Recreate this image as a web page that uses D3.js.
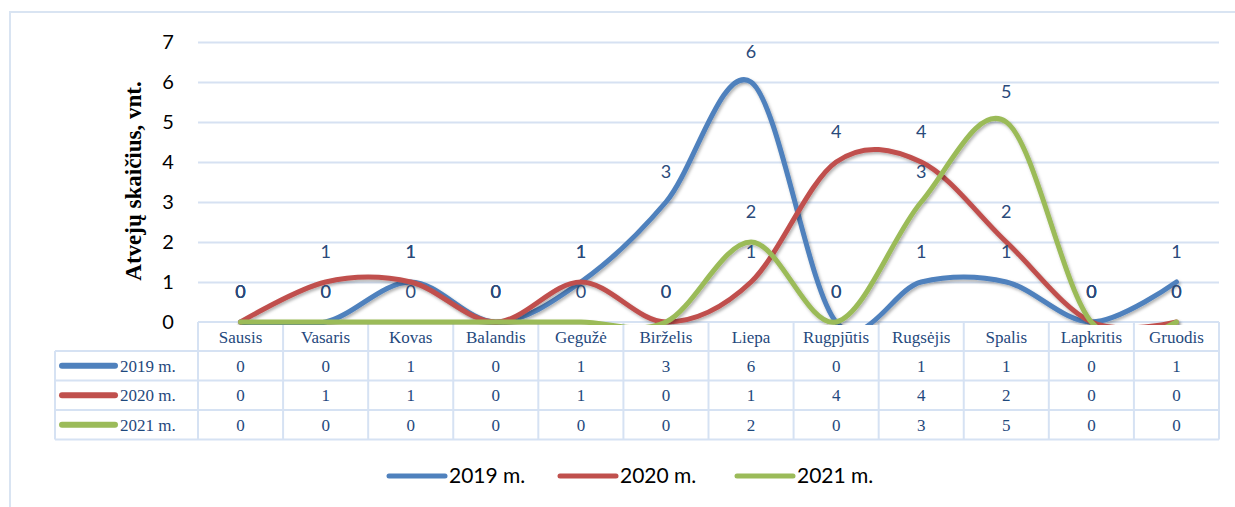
<!DOCTYPE html>
<html>
<head>
<meta charset="utf-8">
<script src="https://cdn.jsdelivr.net/npm/d3@7"></script>
<style>
  body { margin: 0; background: #fff; }
  svg { display: block; }
</style>
</head>
<body>
<div id="chart"></div>
<script>
// Chart data
const months = ["Sausis", "Vasaris", "Kovas", "Balandis", "Gegužė", "Birželis",
                "Liepa", "Rugpjūtis", "Rugsėjis", "Spalis", "Lapkritis", "Gruodis"];
const seriesNames = ["2019 m.", "2020 m.", "2021 m."];
const values2019 = [0, 0, 1, 0, 1, 3, 6, 0, 1, 1, 0, 1];
const values2020 = [0, 1, 1, 0, 1, 0, 1, 4, 4, 2, 0, 0];
const values2021 = [0, 0, 0, 0, 0, 0, 2, 0, 3, 5, 0, 0];
const yTicks = [0, 1, 2, 3, 4, 5, 6, 7];
const yTitle = "Atvejų skaičius, vnt.";

const colors = ["#4F81BD", "#C0504D", "#9BBB59"];
const allValues = [values2019, values2020, values2021];

const width = 1235;
const height = 507;
const plotLeft = 198, plotRight = 1219, plotTop = 42, plotBottom = 322;

const svg = d3.select("#chart").append("svg")
    .attr("width", width)
    .attr("height", height);

// drop shadow for the lines
const defs = svg.append("defs");
const filt = defs.append("filter").attr("id", "shadow")
    .attr("x", "-5%").attr("y", "-5%").attr("width", "110%").attr("height", "120%");
filt.append("feDropShadow")
    .attr("dx", 1.5).attr("dy", 2).attr("stdDeviation", 1.5)
    .attr("flood-color", "#000").attr("flood-opacity", 0.3);
defs.append("clipPath").attr("id", "plotclip")
  .append("rect").attr("x", plotLeft - 10).attr("y", 0)
    .attr("width", plotRight - plotLeft + 20).attr("height", plotBottom + 3);

// outer frame
svg.append("rect")
    .attr("x", 10).attr("y", 12)
    .attr("width", width + 20).attr("height", height + 20)
    .attr("fill", "none")
    .attr("stroke", "#D9E4F2")
    .attr("stroke-width", 2);

const x = d3.scaleBand().domain(months).range([plotLeft, plotRight]);
const y = d3.scaleLinear().domain([0, 7]).range([plotBottom, plotTop]);
const cx = m => x(m) + x.bandwidth() / 2;

// gridlines + y ticks
const yAxis = svg.append("g")
    .attr("transform", `translate(${plotLeft},0)`)
    .call(d3.axisLeft(y).tickValues(yTicks).tickFormat(d3.format("d"))
      .tickSize(-(plotRight - plotLeft)).tickPadding(22));
yAxis.select(".domain").remove();
yAxis.selectAll(".tick line")
    .attr("stroke", "#D6E1F2")
    .attr("stroke-width", 2)
    .attr("display", d => d === 0 ? "none" : null);
yAxis.selectAll(".tick text")
    .attr("font-family", "Lato, 'Open Sans', sans-serif")
    .attr("font-size", 20)
    .attr("fill", "#000")
    .attr("text-anchor", "middle")
    .attr("x", -30);

// y axis title
svg.append("text")
    .attr("transform", "translate(141,181) rotate(-90)")
    .attr("text-anchor", "middle")
    .attr("font-family", "'Liberation Serif', 'Times New Roman', serif")
    .attr("font-weight", "bold")
    .attr("font-size", 23)
    .attr("fill", "#000")
    .text(yTitle);

// data table
const rowTop = [322, 351, 380.5, 410];
const rowBottom = 439.5;
const tableLeft = 55;
const table = svg.append("g");
const gridColor = "#D6E2F3";

// horizontal borders
table.append("line").attr("x1", plotLeft).attr("x2", plotRight).attr("y1", rowTop[0]).attr("y2", rowTop[0])
    .attr("stroke", gridColor).attr("stroke-width", 2);
[rowTop[1], rowTop[2], rowTop[3], rowBottom].forEach(yy => {
  table.append("line").attr("x1", tableLeft).attr("x2", plotRight).attr("y1", yy).attr("y2", yy)
      .attr("stroke", gridColor).attr("stroke-width", 2);
});
// vertical borders
table.append("line").attr("x1", tableLeft).attr("x2", tableLeft).attr("y1", rowTop[1]).attr("y2", rowBottom)
    .attr("stroke", gridColor).attr("stroke-width", 2);
months.forEach(m => {
  table.append("line").attr("x1", x(m)).attr("x2", x(m)).attr("y1", rowTop[0]).attr("y2", rowBottom)
      .attr("stroke", gridColor).attr("stroke-width", 2);
});
table.append("line").attr("x1", plotRight).attr("x2", plotRight).attr("y1", rowTop[0]).attr("y2", rowBottom)
    .attr("stroke", gridColor).attr("stroke-width", 2);

const tableFont = "'Liberation Serif', 'Times New Roman', serif";
const tableColor = "#1F497D";

table.selectAll("text.head")
    .data(months)
    .enter().append("text")
    .attr("class", "head")
    .attr("x", d => cx(d))
    .attr("y", (rowTop[0] + rowTop[1]) / 2 + 6)
    .attr("text-anchor", "middle")
    .attr("font-family", tableFont)
    .attr("font-size", 17)
    .attr("fill", tableColor)
    .text(d => d);

allValues.forEach((vals, si) => {
  const y0 = rowTop[si + 1];
  const y1 = si < 2 ? rowTop[si + 2] : rowBottom;
  const mid = (y0 + y1) / 2;
  table.append("line")
      .attr("x1", 62).attr("x2", 115)
      .attr("y1", mid).attr("y2", mid)
      .attr("stroke", colors[si]).attr("stroke-width", 6)
      .attr("stroke-linecap", "round");
  table.append("text")
      .attr("x", 120).attr("y", mid + 6)
      .attr("font-family", tableFont).attr("font-size", 17)
      .attr("fill", tableColor)
      .text(seriesNames[si]);
  table.selectAll("text.v" + si)
      .data(vals)
      .enter().append("text")
      .attr("class", "v" + si)
      .attr("x", (d, i) => cx(months[i]))
      .attr("y", mid + 6)
      .attr("text-anchor", "middle")
      .attr("font-family", tableFont).attr("font-size", 17)
      .attr("fill", tableColor)
      .text(d => d);
});

// smoothed lines
const line = d3.line()
    .x((d, i) => cx(months[i]))
    .y(d => y(d))
    .curve(d3.curveCardinal.tension(0));

const lines = svg.append("g").attr("clip-path", "url(#plotclip)");
allValues.forEach((vals, si) => {
  lines.append("path")
      .datum(vals)
      .attr("d", line)
      .attr("fill", "none")
      .attr("stroke", colors[si])
      .attr("stroke-width", 5)
      .attr("stroke-linecap", "round")
      .attr("filter", "url(#shadow)");
});

// data labels
const labels = svg.append("g");
allValues.forEach((vals, si) => {
  labels.selectAll("text.l" + si)
      .data(vals)
      .enter().append("text")
      .attr("class", "l" + si)
      .attr("x", (d, i) => cx(months[i]))
      .attr("y", d => y(d) - 24)
      .attr("text-anchor", "middle")
      .attr("font-family", "Lato, 'Open Sans', sans-serif")
      .attr("font-size", 18)
      .attr("fill", "#2A4A7A")
      .text(d => d);
});

// legend
const legendX = [389, 560, 737];
const legend = svg.append("g");
seriesNames.forEach((name, i) => {
  legend.append("line")
      .attr("x1", legendX[i]).attr("x2", legendX[i] + 56)
      .attr("y1", 476).attr("y2", 476)
      .attr("stroke", colors[i]).attr("stroke-width", 5)
      .attr("stroke-linecap", "round");
  legend.append("text")
      .attr("x", legendX[i] + 60).attr("y", 483)
      .attr("font-family", "Lato, 'Open Sans', sans-serif")
      .attr("font-size", 21)
      .attr("fill", "#000")
      .text(name);
});
</script>
</body>
</html>
